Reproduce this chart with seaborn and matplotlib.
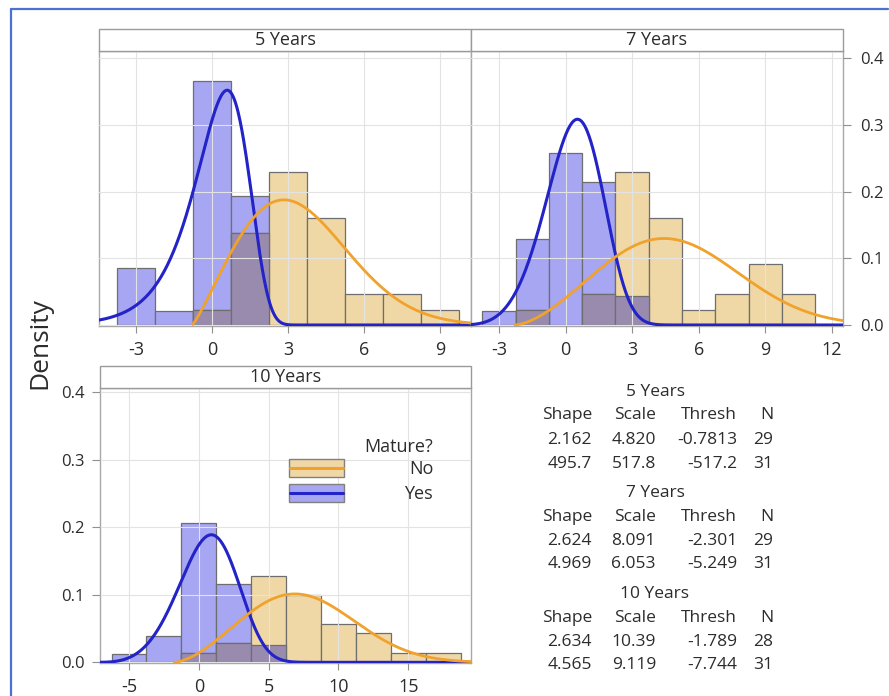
import numpy as np
import pandas as pd
import matplotlib
matplotlib.use("Agg")
import matplotlib.pyplot as plt
import seaborn as sns
from matplotlib.patches import Rectangle
from matplotlib.lines import Line2D

# ---------------- data ----------------
panels = ["5 Years", "7 Years", "10 Years"]
legend_title = "Mature?"
groups = ["No", "Yes"]

edges_5y = [-3.75, -2.25, -0.75, 0.75, 2.25, 3.75, 5.25, 6.75, 8.25, 9.75]
no_5y = [0, 0, 1, 6, 10, 7, 2, 2, 1]
yes_5y = [4, 1, 17, 9, 0, 0, 0, 0, 0]

edges_7y = [-3.75, -2.25, -0.75, 0.75, 2.25, 3.75, 5.25, 6.75, 8.25, 9.75, 11.25]
no_7y = [0, 1, 0, 2, 10, 7, 1, 2, 4, 2]
yes_7y = [1, 6, 12, 10, 2, 0, 0, 0, 0, 0]

edges_10y = [-6.25, -3.75, -1.25, 1.25, 3.75, 6.25, 8.75, 11.25, 13.75, 16.25, 18.75]
no_10y = [0, 0, 1, 2, 9, 7, 4, 3, 1, 1]
yes_10y = [1, 3, 16, 9, 2, 0, 0, 0, 0, 0]

# 3-parameter Weibull fits (per panel)
shape_no = [2.162, 2.624, 2.634]
scale_no = [4.820, 8.091, 10.39]
thresh_no = [-0.7813, -2.301, -1.789]
n_no = [29, 29, 28]
shape_yes = [495.7, 4.969, 4.565]
scale_yes = [517.8, 6.053, 9.119]
thresh_yes = [-517.2, -5.249, -7.744]
n_yes = [31, 31, 31]

xticks_5y = [-3, 0, 3, 6, 9]
xticks_7y = [-3, 0, 3, 6, 9, 12]
xticks_10y = [-5, 0, 5, 10, 15]
yticks = [0.0, 0.1, 0.2, 0.3, 0.4]
table_cols = ["Shape", "Scale", "Thresh", "N"]

# ---------------- style ----------------
sns.set_theme(style="white")
plt.rcParams["font.family"] = ["Open Sans", "DejaVu Sans"]
plt.rcParams["axes.unicode_minus"] = False

C_YES_BAR = "#a6a6f2"
C_NO_BAR = "#f0d8a6"
C_OVER = "#998bae"
C_EDGE = "#6e6e6e"
C_YES_LINE = "#2323c8"
C_NO_LINE = "#f0a22c"
C_TXT = "#2c2c2c"
C_SPINE = "#a8a8a8"

W, H = 889, 696
fig = plt.figure(figsize=(W / 100, H / 100), dpi=100)


def px_rect(x0, y0, x1, y1):
    return [x0 / W, 1 - y1 / H, (x1 - x0) / W, (y1 - y0) / H]


ax1 = fig.add_axes(px_rect(99, 51, 471, 326))
ax2 = fig.add_axes(px_rect(471, 51, 843, 326))
ax3 = fig.add_axes(px_rect(100, 388, 471, 663))

axes = [ax1, ax2, ax3]
all_edges = [edges_5y, edges_7y, edges_10y]
all_no = [no_5y, no_7y, no_10y]
all_yes = [yes_5y, yes_7y, yes_10y]
all_xticks = [xticks_5y, xticks_7y, xticks_10y]
xlims = [(-4.46, 10.22), (-4.26, 12.5), (-7.08, 19.5)]
ylims = [(-0.0015, 0.411), (-0.0015, 0.411), (-0.001, 0.4065)]


def weibull_pdf(x, k, lam, th):
    z = (x - th) / lam
    return (k / lam) * z ** (k - 1) * np.exp(-z ** k)


for i, ax in enumerate(axes):
    e = np.array(all_edges[i])
    centers = (e[:-1] + e[1:]) / 2
    width = np.diff(e)
    cn = np.array(all_no[i], float)
    cy = np.array(all_yes[i], float)
    d_no = cn / (cn.sum() * width)
    d_yes = cy / (cy.sum() * width)
    df = pd.DataFrame({"x": centers, "no": cn, "yes": cy,
                       "over": np.minimum(d_no, d_yes)})
    bins = list(all_edges[i])

    sns.histplot(data=df, x="x", weights="yes", bins=bins, stat="density", color=C_YES_BAR,
                 alpha=1, edgecolor=C_EDGE, linewidth=0.9, ax=ax)
    sns.histplot(data=df, x="x", weights="no", bins=bins, stat="density", color=C_NO_BAR,
                 alpha=1, edgecolor=C_EDGE, linewidth=0.9, ax=ax)
    sns.histplot(data=df, x="x", weights="over", bins=bins, stat="count",
                 color=C_OVER, alpha=1, edgecolor=C_EDGE, linewidth=0.9, ax=ax)
    for p in ax.patches:
        if p.get_height() <= 1e-9:
            p.set_visible(False)

    x0, x1 = xlims[i]
    xs = np.linspace(x0, x1, 600)
    for k, lam, th, col, lw in [
        (shape_yes[i], scale_yes[i], thresh_yes[i], C_YES_LINE, 2.2),
        (shape_no[i], scale_no[i], thresh_no[i], C_NO_LINE, 2.0),
    ]:
        xv = xs[xs >= th]
        yv = weibull_pdf(xv, k, lam, th)
        sns.lineplot(x=xv, y=yv, color=col, lw=lw, ax=ax, zorder=4, sort=False)

    ax.set_xlim(x0, x1)
    ax.set_ylim(*ylims[i])
    ax.set_xticks(all_xticks[i])
    ax.set_xticklabels([str(t) for t in all_xticks[i]])
    ax.set_yticks(yticks)
    ax.set_yticklabels([f"{t:.1f}" for t in yticks])
    ax.set_xlabel("")
    ax.set_ylabel("")
    ax.grid(True, color="#e3e3e3", lw=0.8)
    ax.set_axisbelow(False)
    for s in ax.spines.values():
        s.set_color(C_SPINE)
        s.set_linewidth(1.0)
    ax.tick_params(axis="x", bottom=True, direction="out", length=5, width=0.8,
                   color="#909090", labelsize=13, labelcolor=C_TXT, pad=6)

    # strip header
    sh = 22 / 275
    ax.add_patch(Rectangle((0, 1), 1, sh, transform=ax.transAxes, clip_on=False,
                           fc="white", ec="#9a9a9a", lw=1.0, zorder=5))
    ax.text(0.5, 1 + sh / 2, panels[i], transform=ax.transAxes, ha="center",
            va="center", fontsize=13, color=C_TXT, zorder=6)

ax1.tick_params(axis="y", left=False, right=False, labelleft=False)
ax2.yaxis.tick_right()
ax2.tick_params(axis="y", right=True, left=False, direction="out", length=6,
                width=0.8, color="#909090", labelsize=12, labelcolor=C_TXT, pad=6)
ax3.tick_params(axis="y", left=True, direction="out", length=6, width=0.8,
                color="#909090", labelsize=12, labelcolor=C_TXT, pad=5)

# legend (manual, Minitab-like)
leg_items = [(groups[0], C_NO_BAR, C_NO_LINE, 0.676), (groups[1], C_YES_BAR, C_YES_LINE, 0.585)]
ax3.text(0.898, 0.785, legend_title, transform=ax3.transAxes, ha="right",
         va="center", fontsize=13, color=C_TXT, zorder=7)
for lab, fc, lc, yb in leg_items:
    ax3.add_patch(Rectangle((0.509, yb), 0.149, 0.066, transform=ax3.transAxes,
                            fc=fc, ec="#808080", lw=1.0, zorder=7))
    ax3.add_line(Line2D([0.512, 0.655], [yb + 0.033, yb + 0.033],
                        transform=ax3.transAxes, color=lc, lw=2.2, zorder=8))
    ax3.text(0.898, yb + 0.029, lab, transform=ax3.transAxes, ha="right",
             va="center", fontsize=13, color=C_TXT, zorder=7)

# y label
fig.text(40 / W, 1 - 343 / H, "Density", rotation=90, ha="center", va="center",
         fontsize=19, color=C_TXT)

# parameter table
col_right = [592, 656, 737, 773]
title_x = 655
row_y = [[392, 415, 440, 464], [493, 517, 541, 564], [594, 618, 642, 665]]
for i in range(3):
    ys = row_y[i]
    fig.text(title_x / W, 1 - ys[0] / H, panels[i], ha="center", va="center",
             fontsize=12.5, color=C_TXT)
    for c, name in enumerate(table_cols):
        fig.text(col_right[c] / W, 1 - ys[1] / H, name, ha="right", va="center",
                 fontsize=12.5, color=C_TXT)
    rows = [
        [shape_no[i], scale_no[i], thresh_no[i], n_no[i]],
        [shape_yes[i], scale_yes[i], thresh_yes[i], n_yes[i]],
    ]
    for r, vals in enumerate(rows):
        txt = ["{:#.4g}".format(v) for v in vals[:3]] + [str(vals[3])]
        for c, t in enumerate(txt):
            fig.text(col_right[c] / W, 1 - ys[2 + r] / H, t, ha="right",
                     va="center", fontsize=12.5, color=C_TXT)

# blue frame (left and top edges only)
fig.add_artist(Line2D([11 / W, 11 / W], [0, 1 - 8.5 / H], color="#4a72d2", lw=1.6))
fig.add_artist(Line2D([11 / W, 0.999], [1 - 8.5 / H, 1 - 8.5 / H], color="#4a72d2", lw=1.6))

fig.savefig("out.png", dpi=100, facecolor="white")
